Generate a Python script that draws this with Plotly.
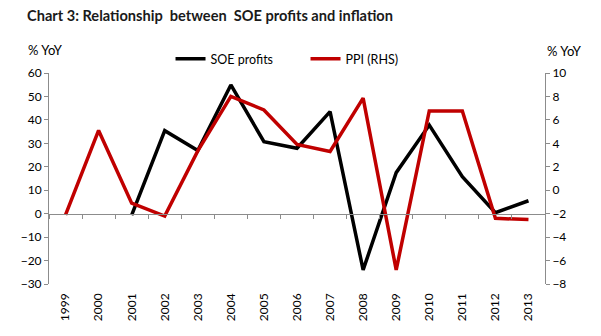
import plotly.graph_objects as go

years = [str(y) for y in range(1999, 2014)]
soe_profits = [None, None, -0.6, 35.4, 26.9, 54.9, 30.7, 27.9, 43.5, -24.0, 17.5, 37.8, 15.8, 0.4, 5.5]
ppi = [-2.1, 5.1, -1.1, -2.2, 3.35, 8.0, 6.85, 3.9, 3.3, 7.85, -6.8, 6.76, 6.76, -2.4, -2.5]

left_ticks = list(range(-30, 61, 10))
right_ticks = list(range(-8, 11, 2))

FONT = "Lato"
AXIS_GREY = "#8c8c8c"
XRANGE = [-0.5, len(years) - 0.5]

fig = go.Figure()
fig.add_trace(go.Scatter(x=years, y=soe_profits, name="SOE profits", mode="lines",
                         line=dict(color="#000000", width=3.5), yaxis="y"))
fig.add_trace(go.Scatter(x=years, y=ppi, name="PPI (RHS)", mode="lines",
                         line=dict(color="#c00000", width=3.5), yaxis="y2"))

fig.update_layout(
    width=601, height=336,
    margin=dict(l=49, r=56, t=73, b=52),
    paper_bgcolor="white", plot_bgcolor="white",
    font=dict(family=FONT, size=12, color="#000000"),
    showlegend=True,
    legend=dict(orientation="h", x=0.245, y=(284 - 59) / 211, xanchor="left", yanchor="middle",
                font=dict(size=12.5), entrywidth=90, entrywidthmode="pixels",
                itemwidth=30, bgcolor="rgba(0,0,0,0)", tracegroupgap=0),
    xaxis=dict(type="category", categoryorder="array", categoryarray=years, range=XRANGE,
               showline=False, showgrid=False, zeroline=False,
               ticks="", tickangle=-90, ticklabelstandoff=6,
               tickfont=dict(size=12)),
    xaxis2=dict(type="category", categoryorder="array", categoryarray=years, range=XRANGE,
                overlaying="x", anchor="free", position=1/3, side="bottom",
                showline=True, linecolor=AXIS_GREY, linewidth=1,
                ticks="outside", ticklen=4, tickcolor=AXIS_GREY, tickson="boundaries",
                showticklabels=False, showgrid=False, zeroline=False),
    yaxis=dict(range=[-30, 60], tickvals=left_ticks, showgrid=False, zeroline=False,
               showline=True, linecolor=AXIS_GREY, linewidth=1,
               ticks="outside", ticklen=4, tickcolor=AXIS_GREY,
               tickfont=dict(size=12)),
    yaxis2=dict(range=[-8, 10], tickvals=right_ticks, overlaying="y", side="right",
                showgrid=False, zeroline=False,
                showline=True, linecolor=AXIS_GREY, linewidth=1,
                ticks="outside", ticklen=4, tickcolor=AXIS_GREY,
                tickfont=dict(size=12)),
)

# invisible trace to activate the zero-line axis
fig.add_trace(go.Scatter(x=years, y=[None] * len(years), xaxis="x2", yaxis="y",
                         showlegend=False, hoverinfo="skip"))

fig.add_annotation(text="<b>Chart 3: Relationship  between  SOE profits and inflation</b>",
                   xref="paper", yref="paper", x=-0.048, y=(284 - 15) / 211,
                   xanchor="left", yanchor="middle", showarrow=False,
                   font=dict(family=FONT, size=14.6, color="#1a1a1a"))
fig.add_annotation(text="% YoY", xref="paper", yref="paper", x=-0.046, y=(284 - 50) / 211,
                   xanchor="left", yanchor="middle", showarrow=False,
                   font=dict(family=FONT, size=13))
fig.add_annotation(text="% YoY", xref="paper", yref="paper", x=1.04, y=(284 - 51) / 211,
                   xanchor="center", yanchor="middle", showarrow=False,
                   font=dict(family=FONT, size=13))

fig.write_html("out.html")
